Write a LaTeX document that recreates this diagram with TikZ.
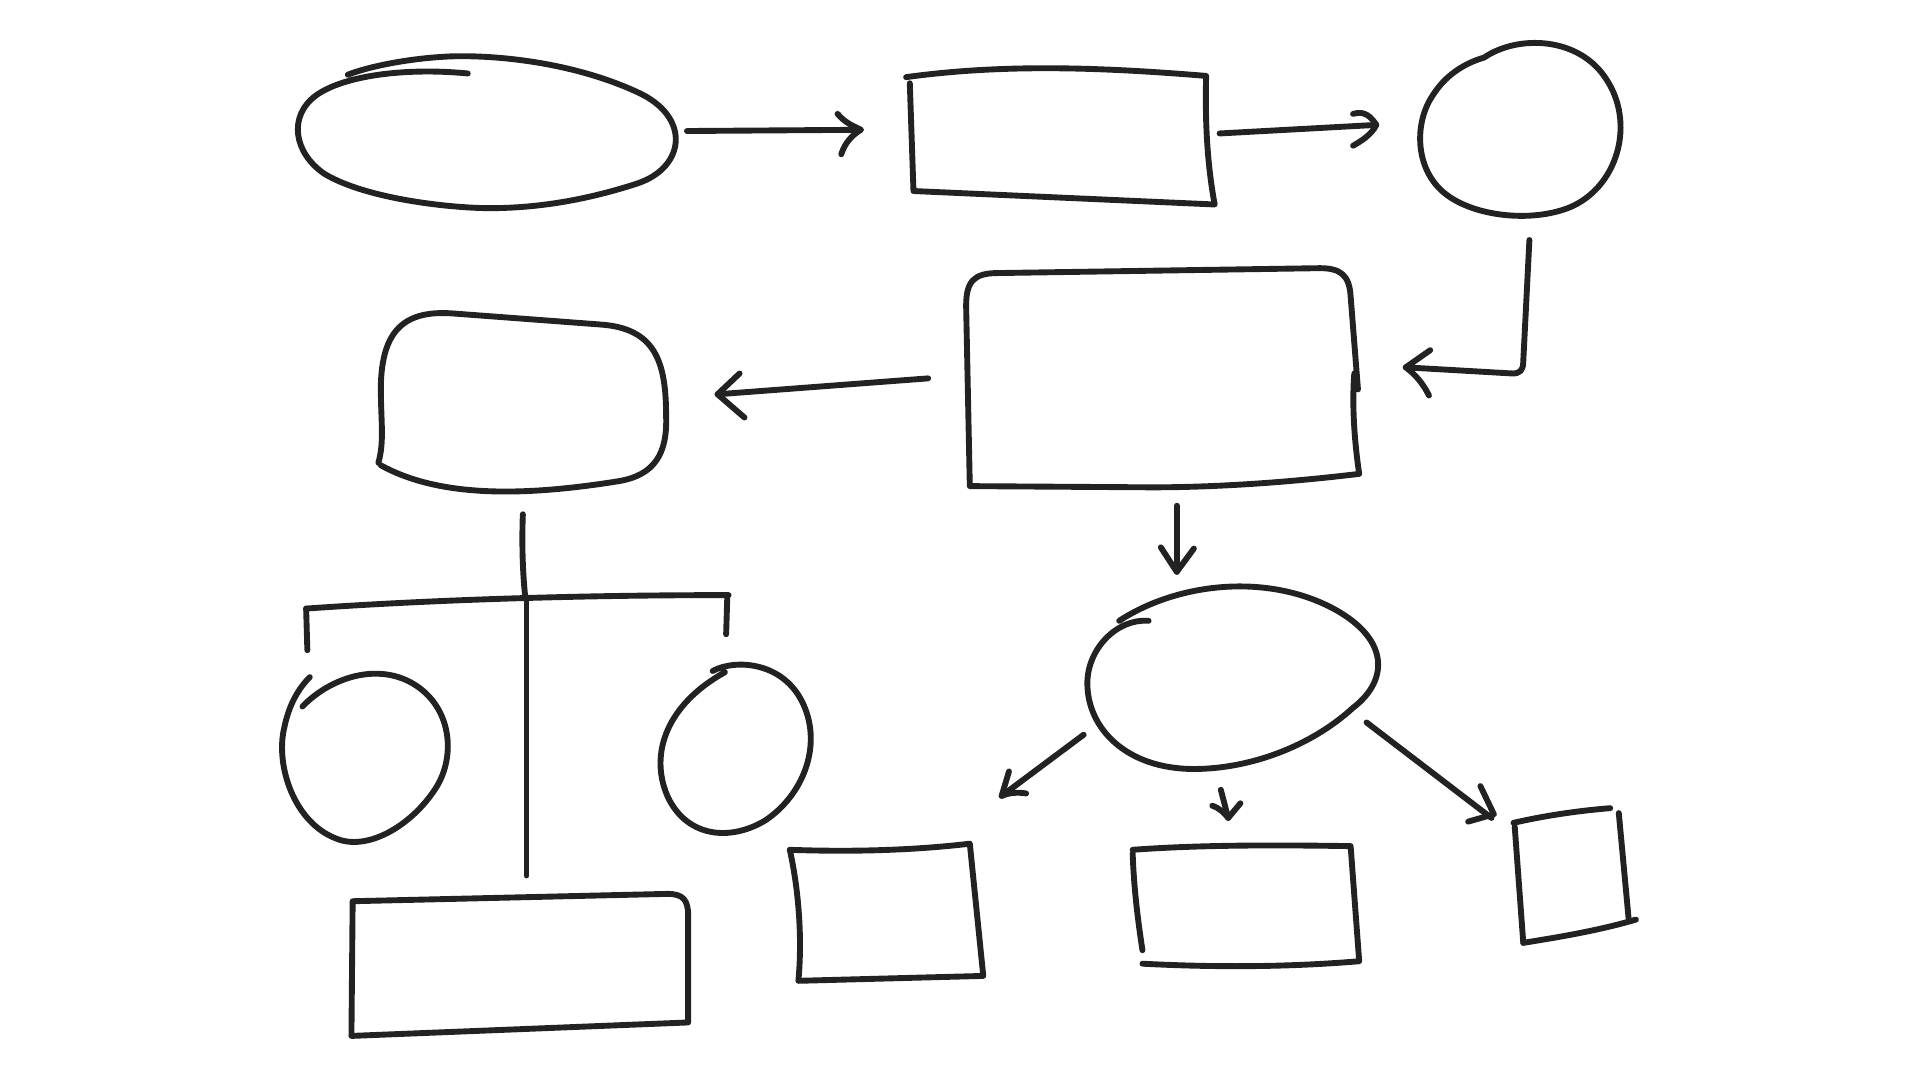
\documentclass[tikz,border=0pt]{standalone}
\begin{document}
\begin{tikzpicture}[x=0.5pt,y=-0.5pt]
\definecolor{ink}{HTML}{222222}
\tikzset{sk/.style={draw=ink,line width=2.4pt,line cap=round,line join=round}}
\useasboundingbox[fill=white] (0,0) rectangle (1568,882);
% top ellipse
\draw[sk] (382,60) .. controls (330,55) and (280,62) .. (258,78) .. controls (235,95) and (240,125) .. (265,142) .. controls (300,163) and (370,170) .. (400,170) .. controls (440,170) and (480,163) .. (520,150) .. controls (560,137) and (565,95) .. (520,75) .. controls (470,52) and (410,45) .. (370,46) .. controls (340,47) and (305,53) .. (284,61);
\coordinate (e1) at (561,107);
\coordinate (r1l) at (703,106);
\draw[sk] (e1) -- (r1l);
\draw[sk] (684,93) .. controls (690,100) and (695,102) .. (703,106) .. controls (695,111) and (690,117) .. (687,126);
% top rect
\draw[sk] (740,63) .. controls (820,52) and (900,55) .. (985,62) .. controls (984,100) and (986,135) .. (992,167) -- (746,156) -- (743,68);
\coordinate (r1r) at (996,109);
\coordinate (c1l) at (1124,102);
\draw[sk] (r1r) -- (c1l);
\draw[sk] (1105,93) .. controls (1115,90) and (1120,96) .. (1124,102) .. controls (1120,110) and (1112,115) .. (1105,119);
% top circle
\draw[sk] (1212,47) .. controls (1240,28) and (1290,30) .. (1312,65) .. controls (1335,100) and (1322,150) .. (1285,168) .. controls (1255,182) and (1205,178) .. (1180,158) .. controls (1155,138) and (1155,100) .. (1170,78) .. controls (1180,62) and (1195,52) .. (1212,47);
% connector
\draw[sk] (1249,196) -- (1244,295) .. controls (1244,303) and (1241,305) .. (1235,305) -- (1148,300);
\draw[sk] (1168,286) -- (1148,300) .. controls (1156,306) and (1162,313) .. (1167,323);
% big rounded rect
\draw[sk] (1109,318) -- (1103,242) .. controls (1102,225) and (1095,219) .. (1078,219) -- (815,223) .. controls (795,223) and (789,230) .. (789,250) -- (792,397) -- (940,398) .. controls (1000,398) and (1060,393) .. (1110,387) .. controls (1106,360) and (1104,330) .. (1106,305);
% arrow left
\draw[sk] (758,309) -- (586,322);
\draw[sk] (604,305) -- (586,322) -- (608,341);
% left rounded rect
\draw[sk] (311,380) .. controls (360,407) and (430,405) .. (505,393) .. controls (535,388) and (545,370) .. (544,340) .. controls (544,295) and (535,268) .. (490,265) -- (370,256) .. controls (330,253) and (312,270) .. (311,315) .. controls (311,345) and (314,360) .. (309,378);
% tree
\draw[sk] (427,420) .. controls (426,445) and (427,470) .. (429,488);
\draw[sk] (250,497) .. controls (350,490) and (470,486) .. (595,486);
\draw[sk] (250,497) -- (251,531);
\draw[sk] (594,486) -- (593,518);
\draw[sk] (430,488) -- (430,715);
% left circle
\draw[sk] (247,577) .. controls (270,553) and (310,540) .. (340,560) .. controls (370,580) and (372,620) .. (355,645) .. controls (335,675) and (300,695) .. (275,685) .. controls (240,672) and (225,625) .. (232,595) .. controls (236,575) and (244,562) .. (253,553);
% right circle
\draw[sk] (582,548) .. controls (600,538) and (640,540) .. (656,575) .. controls (672,610) and (655,650) .. (625,670) .. controls (595,688) and (560,683) .. (545,650) .. controls (530,615) and (545,575) .. (592,549);
% bottom-left rect
\draw[sk] (288,736) -- (545,730) .. controls (558,730) and (562,735) .. (562,748) -- (562,835) -- (287,846) -- (288,736);
% down arrow
\draw[sk] (961,413) -- (961,467);
\draw[sk] (948,447) -- (961,467) -- (975,448);
% bottom ellipse
\draw[sk] (914,507) .. controls (960,477) and (1030,468) .. (1085,495) .. controls (1135,520) and (1135,555) .. (1105,578) .. controls (1070,610) and (1020,628) .. (975,628) .. controls (920,628) and (888,595) .. (888,558) .. controls (888,530) and (912,505) .. (938,507);
% three arrows
\draw[sk] (885,600) -- (818,650);
\draw[sk] (824,630) -- (818,650) .. controls (825,647) and (832,647) .. (838,648);
\draw[sk] (997,645) -- (1003,668);
\draw[sk] (990,658) .. controls (996,660) and (1000,664) .. (1003,668) -- (1013,656);
\draw[sk] (1116,590) -- (1218,668);
\draw[sk] (1209,642) -- (1220,665) -- (1199,671);
% bottom rects
\draw[sk] (645,694) .. controls (700,696) and (750,694) .. (792,689) -- (803,797) -- (652,801) .. controls (655,770) and (653,730) .. (645,694);
\draw[sk] (925,694) .. controls (980,690) and (1040,690) .. (1103,691) -- (1110,785) .. controls (1050,790) and (990,790) .. (933,787);
\draw[sk] (925,697) .. controls (926,725) and (929,750) .. (933,776);
\draw[sk] (1236,672) .. controls (1262,666) and (1290,662) .. (1315,660);
\draw[sk] (1322,664) -- (1330,750);
\draw[sk] (1336,751) .. controls (1305,760) and (1275,765) .. (1244,770);
\draw[sk] (1237,675) -- (1244,770);
\end{tikzpicture}
\end{document}
